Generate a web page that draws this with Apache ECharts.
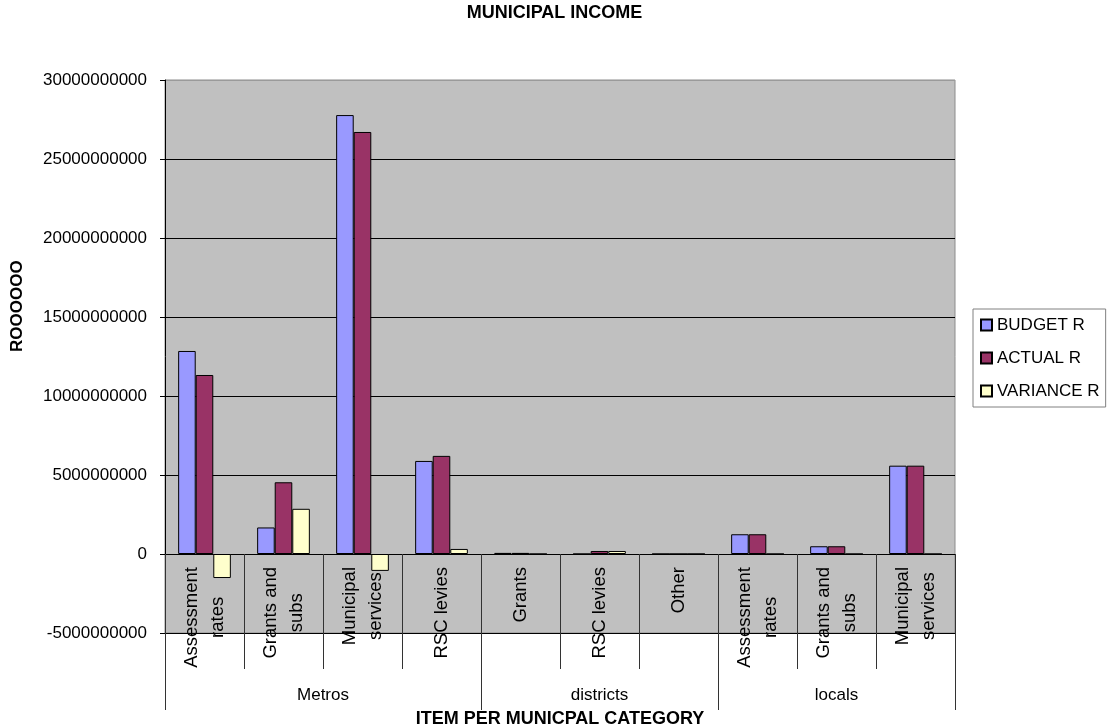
<!DOCTYPE html>
<html>
<head>
<meta charset="utf-8">
<title>MUNICIPAL INCOME</title>
<script src="https://cdn.jsdelivr.net/npm/echarts@6/dist/echarts.min.js"></script>
<style>
  html, body { margin: 0; padding: 0; background: #fff; }
  #chart { width: 1109px; height: 728px; }
</style>
</head>
<body>
<div id="chart"></div>
<script>
// Items per municipal category (two-level x axis)
const categories = [
  'Assessment\nrates', 'Grants and\nsubs', 'Municipal\nservices', 'RSC levies',
  'Grants', 'RSC levies', 'Other',
  'Assessment\nrates', 'Grants and\nsubs', 'Municipal\nservices'
];
const groupNames = ['Metros', 'districts', 'locals'];
const groupSizes = [4, 3, 3];

// Income in Rand
const budget   = [12.85e9, 1.68e9, 27.78e9, 5.89e9, 0.07e9, 0,      0, 1.25e9, 0.49e9, 5.59e9];
const actual   = [11.33e9, 4.54e9, 26.71e9, 6.21e9, 0.07e9, 0.19e9, 0, 1.25e9, 0.49e9, 5.59e9];
const variance = [-1.52e9, 2.86e9, -1.07e9, 0.32e9, 0,      0.19e9, 0, 0,      0,      0];

const seriesNames = ['BUDGET R', 'ACTUAL R', 'VARIANCE R'];
const yMin = -5e9, yMax = 30e9, yStep = 5e9;

const FONT = '"Liberation Sans", Arial, Helvetica, sans-serif';

const WIDTH = 1109, HEIGHT = 728;
const GRID = { left: 165, right: 154, top: 80, bottom: 95 };
const plotHeight = HEIGHT - GRID.top - GRID.bottom;
// The item axis sits on the zero line: shift it up from the plot bottom by the span below zero
const zeroOffset = -plotHeight * (0 - yMin) / (yMax - yMin);

// Group axis: points at every half item, labels at group centres, ticks at group edges
const totalItems = groupSizes.reduce((a, b) => a + b, 0);
const slotLabels = new Array(totalItems * 2 + 1).fill('');
const groupEdges = [];
let start = 0;
groupSizes.forEach((n, g) => {
  groupEdges.push(start * 2);
  slotLabels[start * 2 + n] = groupNames[g];
  start += n;
});
groupEdges.push(totalItems * 2);

// Grid lines: the top edge is drawn lighter
const lineCount = Math.round((yMax - yMin) / yStep) + 1;
const splitColors = [];
for (let i = 0; i < lineCount; i++) splitColors.push(i === lineCount - 1 ? '#9a9a9a' : '#000');

const chart = echarts.init(document.getElementById('chart'));
chart.setOption({
  animation: false,
  backgroundColor: '#fff',
  title: {
    text: 'MUNICIPAL INCOME',
    left: 'center',
    top: -1,
    textStyle: { fontFamily: FONT, fontSize: 18, fontWeight: 'bold', color: '#000' }
  },
  legend: {
    orient: 'vertical',
    left: 973,
    top: 309,
    padding: [6, 6, 6, 7],
    itemWidth: 11,
    itemHeight: 11,
    itemGap: 13,
    icon: 'rect',
    backgroundColor: '#fff',
    borderColor: '#808080',
    borderWidth: 1,
    borderRadius: 0,
    textStyle: { fontFamily: FONT, fontSize: 17, color: '#000', lineHeight: 20 },
    data: seriesNames
  },
  grid: {
    left: GRID.left,
    right: GRID.right,
    top: GRID.top,
    bottom: GRID.bottom,
    containLabel: false,
    outerBoundsMode: 'none',
    show: true,
    backgroundColor: '#C0C0C0',
    borderColor: '#8c8c8c',
    borderWidth: 1
  },
  graphic: [{
    type: 'text',
    x: 17,
    y: 352,
    rotation: Math.PI / 2,
    style: {
      text: 'ROOOOOO',
      fill: '#000',
      font: 'bold 17px ' + FONT,
      align: 'left',
      verticalAlign: 'middle',
      textAlign: 'left',
      textVerticalAlign: 'middle'
    }
  }],
  xAxis: [{
    type: 'category',
    data: categories,
    position: 'bottom',
    offset: zeroOffset,
    axisLine: { onZero: false, lineStyle: { color: '#000', width: 1 } },
    axisTick: { show: true, interval: 0, length: 115, lineStyle: { color: '#333' } },
    axisLabel: {
      interval: 0,
      rotate: 90,
      margin: 13,
      color: '#000',
      fontFamily: FONT,
      fontSize: 18.5,
      hideOverlap: false,
      formatter: v => v.split('\n').map(s => '{c|' + s + '}').join('\n'),
      rich: { c: { align: 'center', fontFamily: FONT, fontSize: 18.5, lineHeight: 26, color: '#000' } }
    },
    splitLine: { show: false }
  }, {
    type: 'category',
    position: 'bottom',
    boundaryGap: false,
    data: slotLabels.map((s, i) => String(i)),
    axisLine: { show: false, onZero: false },
    axisTick: {
      show: true,
      length: 77,
      interval: idx => groupEdges.indexOf(idx) >= 0,
      lineStyle: { color: '#333' }
    },
    axisLabel: {
      interval: idx => slotLabels[idx] !== '',
      formatter: (v, idx) => slotLabels[idx],
      margin: 54,
      color: '#000',
      fontFamily: FONT,
      fontSize: 17
    },
    splitLine: { show: false },
    name: 'ITEM PER MUNICPAL CATEGORY',
    nameLocation: 'middle',
    nameGap: 77,
    nameTextStyle: { fontFamily: FONT, fontSize: 18, fontWeight: 'bold', color: '#000' }
  }],
  yAxis: {
    type: 'value',
    min: yMin,
    max: yMax,
    interval: yStep,
    axisLine: { show: true, lineStyle: { color: '#000', width: 1 } },
    axisTick: { show: true, length: 5, lineStyle: { color: '#000' } },
    axisLabel: {
      margin: 18,
      color: '#000',
      fontFamily: FONT,
      fontSize: 17,
      formatter: v => String(v)
    },
    splitLine: { show: true, lineStyle: { color: splitColors, width: 1 } }
  },
  series: [
    { name: seriesNames[0], data: budget,   color: '#9999FF' },
    { name: seriesNames[1], data: actual,   color: '#993366' },
    { name: seriesNames[2], data: variance, color: '#FFFFCC' }
  ].map(s => ({
    type: 'bar',
    name: s.name,
    data: s.data,
    xAxisIndex: 0,
    barGap: '0%',
    barCategoryGap: '33.3%',
    itemStyle: { color: s.color, borderColor: '#000', borderWidth: 1 }
  }))
});
</script>
</body>
</html>
